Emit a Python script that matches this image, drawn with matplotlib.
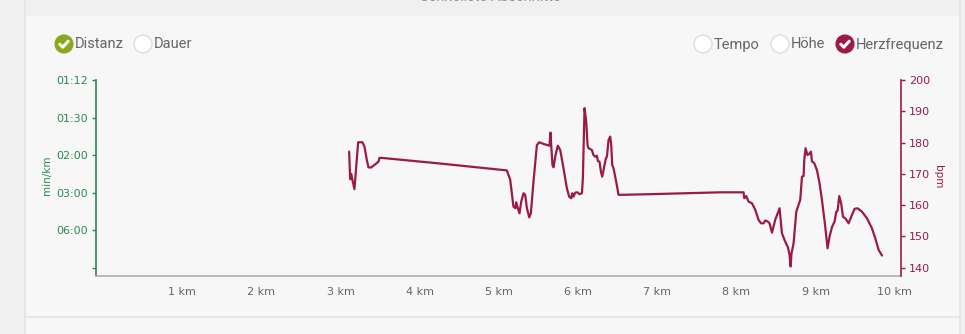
import matplotlib
matplotlib.use("Agg")
import matplotlib.pyplot as plt
from matplotlib.patches import Circle, Rectangle

# Heart rate along the route (distance in km, heart rate in bpm)
distance_km = [
    3.108, 3.121, 3.134, 3.150, 3.175, 3.197, 3.222, 3.276, 3.302, 3.332,
    3.352, 3.383, 3.415, 3.479, 3.491, 3.522, 4.258, 4.637, 5.101, 5.143,
    5.184, 5.209, 5.219, 5.240, 5.260, 5.282, 5.311, 5.332, 5.354, 5.383,
    5.404, 5.437, 5.480, 5.509, 5.572, 5.639, 5.652, 5.661, 5.677, 5.690,
    5.715, 5.745, 5.775, 5.816, 5.859, 5.888, 5.914, 5.926, 5.943, 5.964,
    5.993, 6.018, 6.049, 6.061, 6.082, 6.103, 6.120, 6.132, 6.175, 6.195,
    6.217, 6.238, 6.251, 6.271, 6.289, 6.305, 6.331, 6.352, 6.365, 6.385,
    6.406, 6.419, 6.432, 6.448, 6.482, 6.511, 6.554, 6.912, 7.796, 8.091,
    8.100, 8.125, 8.154, 8.197, 8.239, 8.280, 8.311, 8.344, 8.365, 8.394,
    8.419, 8.450, 8.491, 8.546, 8.576, 8.618, 8.652, 8.672, 8.685, 8.697,
    8.723, 8.757, 8.786, 8.807, 8.829, 8.849, 8.858, 8.874, 8.899, 8.925,
    8.942, 8.955, 8.984, 9.018, 9.051, 9.081, 9.123, 9.152, 9.178, 9.208,
    9.241, 9.262, 9.279, 9.300, 9.325, 9.347, 9.376, 9.418, 9.461, 9.493,
    9.531, 9.587, 9.650, 9.713, 9.755, 9.797, 9.840,
]
heart_rate_bpm = [
    177.1, 168.3, 170.0, 168.0, 165.1, 172.3, 180.1, 180.1, 178.7, 174.4,
    172.1, 172.0, 172.6, 173.9, 175.1, 175.1, 173.3, 172.3, 171.1, 168.1,
    159.5, 159.0, 160.9, 159.0, 157.4, 161.1, 163.8, 163.3, 159.0, 156.1,
    157.4, 167.5, 179.2, 180.1, 179.5, 179.0, 183.2, 179.2, 172.8, 172.1,
    176.0, 179.0, 177.6, 171.8, 165.4, 162.7, 162.2, 163.8, 162.7, 164.0,
    164.1, 163.5, 163.8, 168.6, 191.0, 186.7, 179.2, 178.2, 177.6, 176.0,
    175.5, 175.8, 174.1, 173.9, 170.7, 169.1, 172.3, 175.0, 175.5, 180.8,
    181.9, 179.2, 172.8, 171.8, 167.5, 163.3, 163.3, 163.5, 164.1, 164.1,
    162.2, 162.9, 161.1, 160.6, 158.5, 155.3, 154.2, 154.2, 155.1, 154.8,
    154.2, 151.2, 155.3, 159.0, 151.0, 148.3, 146.5, 144.1, 140.4, 144.6,
    147.8, 157.9, 160.1, 161.7, 169.1, 169.3, 174.4, 178.2, 176.0, 176.5,
    177.1, 174.0, 173.4, 171.2, 167.0, 161.7, 153.1, 146.2, 150.0, 153.0,
    154.8, 157.9, 158.2, 162.9, 160.4, 156.3, 155.8, 154.2, 156.9, 158.8,
    159.0, 157.9, 155.8, 152.6, 149.4, 145.7, 143.9,
]

# Axis ticks
x_ticks = [1, 2, 3, 4, 5, 6, 7, 8, 9, 10]
x_tick_labels = [f"{v} km" for v in x_ticks]
speed_ticks = [0, 10, 20, 30, 40, 50]  # km/h, shown as pace
pace_labels = ["", "06:00", "03:00", "02:00", "01:30", "01:12"]
bpm_ticks = [140, 150, 160, 170, 180, 190, 200]

left_items = [("Distanz", True), ("Dauer", False)]
right_items = [("Tempo", False), ("Höhe", False), ("Herzfrequenz", True)]

W, H = 965, 334
GREEN = "#2b8a4f"
CRIMSON = "#9b1b45"
OLIVE = "#8aa81c"
GREY_TXT = "#666666"

fig = plt.figure(figsize=(W / 100, H / 100), dpi=100)
fig.patch.set_facecolor("#f7f7f7")

# Page background and panel frame (pixel coordinates)
bg = fig.add_axes([0, 0, 1, 1], zorder=0)
bg.set_xlim(0, W)
bg.set_ylim(H, 0)
bg.axis("off")
bg.add_patch(Rectangle((0, 0), 24.5, H, color="#f0f0f0", lw=0))
bg.add_patch(Rectangle((24.5, 0), W, 15.5, color="#f0f0f0", lw=0))
bg.plot([24.5, 24.5], [0, H], color="#e4e4e4", lw=1.2)
bg.plot([24.5, 959.5], [316.5, 316.5], color="#e4e4e4", lw=1.2)
bg.plot([959.5, 959.5], [0, H], color="#e4e4e4", lw=1.2)
bg.add_patch(Rectangle((960, 0), 10, H, color="#f2f2f2", lw=0))
bg.text(490, -3, "Schnellste Abschnitte", ha="center", va="center",
        fontsize=10.5, color="#8c91a8", family="Roboto")


def legend_item(x, label, checked, color):
    cy = 44
    if checked:
        bg.add_patch(Circle((x, cy), 9, facecolor=color, edgecolor=color, lw=0.8))
        bg.plot([x - 4.2, x - 1.2, x + 4.2], [cy + 0.3, cy + 3.2, cy - 2.8],
                color="white", lw=2.2, solid_capstyle="round",
                solid_joinstyle="round")
    else:
        bg.add_patch(Circle((x, cy), 9, facecolor="white", edgecolor="#dddddd",
                            lw=1.0))
    bg.text(x + 10.5, cy + 0.5, label, ha="left", va="center", fontsize=10.5,
            color=GREY_TXT, family="Roboto")


for (label, checked), x in zip(left_items, [64, 143]):
    legend_item(x, label, checked, OLIVE)
for (label, checked), x in zip(right_items, [703, 780, 845]):
    legend_item(x, label, checked, CRIMSON)

# Chart axes
left, right, top, bottom = 96, 901, 80, 276
ax = fig.add_axes([left / W, 1 - bottom / H, (right - left) / W, (bottom - top) / H],
                  zorder=2)
ax.set_facecolor("none")
ax.set_xlim(-0.09, 10.08)
ax.set_ylim(-2.2, 50)
ax.set_yticks(speed_ticks)
ax.set_yticklabels(pace_labels)
ax.set_xticks(x_ticks)
ax.set_xticklabels(x_tick_labels)
ax.tick_params(axis="x", length=0, pad=8, labelsize=8, labelcolor=GREY_TXT)
ax.tick_params(axis="y", length=3, width=1, color=GREEN, pad=2.5,
               labelsize=8, labelcolor=GREEN)
for s in ["top", "right"]:
    ax.spines[s].set_visible(False)
ax.spines["left"].set_color(GREEN)
ax.spines["left"].set_linewidth(1.2)
ax.spines["bottom"].set_color("#b0b0b0")
ax.spines["bottom"].set_linewidth(1.2)

ax2 = ax.twinx()
ax2.set_ylim(137.35, 200)
ax2.set_yticks(bpm_ticks)
ax2.tick_params(axis="y", length=3, width=1, color=CRIMSON, pad=2.5,
                labelsize=8, labelcolor=CRIMSON)
for s in ["top", "left", "bottom"]:
    ax2.spines[s].set_visible(False)
ax2.spines["right"].set_color(CRIMSON)
ax2.spines["right"].set_linewidth(1.2)

ax2.plot(distance_km, heart_rate_bpm, color=CRIMSON, lw=1.6,
         solid_joinstyle="round", solid_capstyle="round")

fig.text(47 / W, 1 - 175 / H, "min/km", rotation=90, ha="center", va="center",
         fontsize=7.5, color=GREEN)
fig.text(938 / W, 1 - 177 / H, "bpm", rotation=270, ha="center", va="center",
         fontsize=7.5, color=CRIMSON)

fig.savefig("out.png", dpi=100, facecolor=fig.get_facecolor())
